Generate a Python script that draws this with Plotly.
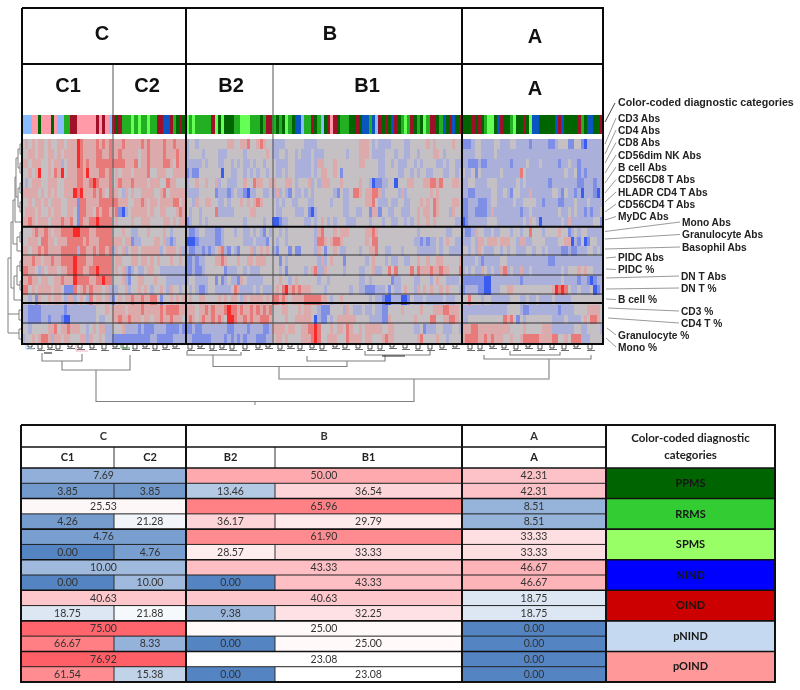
import numpy as np
import plotly.graph_objects as go

W, H = 800, 690

# ---------- heat map data (levels: 0 strong blue .. 3 grey .. 6 strong red)
ROW_LABELS = ["CD3 Abs", "CD4 Abs", "CD8 Abs", "CD56dim NK Abs", "B cell Abs", "CD56CD8 T Abs",
              "HLADR CD4 T Abs", "CD56CD4 T Abs", "MyDC Abs", "Mono Abs", "Granulocyte Abs",
              "Basophil Abs", "PIDC Abs", "PIDC %", "DN T Abs", "DN T %", "B cell %", "CD3 %",
              "CD4 T %", "Granulocyte %", "Mono %"]
CLUSTER_SIZES = [28, 23, 27, 59, 44]

C1_CELLS = [
    "3434344343344344465444454545", "3344344344343444465444455445",
    "4434443343442344465454455555", "3343463343546344455464445545",
    "3234443344433444455445654445", "4444434343433444656444545435",
    "3343443434443344415544445555", "3444343343443344315544354554",
    "4454344434445445315445565555", "3334544543445555665554455555",
    "3344435544344455555454445555", "4434454544445555525544545545",
    "4445443445445555655544555555", "5544324344434455655445565555",
    "4454434433445444655554455655", "5534344443443111534545444342",
    "3323143343443244234325344342", "2211112222222122222222233343",
    "2211112212221002222222232233", "3323333344534454443323434422",
    "2334345542443443334424334322"]
C2_CELLS = [
    "44454444454544445445444", "44544444344544445444544", "55554445344544445543544",
    "34344434444533444334444", "34544454444344433544333", "44324343344443345344444",
    "55444334454344344445534", "45102344444343344333454", "34333343344433334434344",
    "33343322333433334323333", "44434412233334434212333", "24342344344444423444342",
    "34433344344343433343343", "34342123223443322222222", "33342133443334333222222",
    "22334233434323343243323", "13434454454455313343434", "44443444454444454555544",
    "44544544434434454454443", "33342222121112222111121", "11111111111122111112222"]
B2_CELLS = [
    "233233333333344334453345433", "233332333322233333233333343", "222223233322332323223233233",
    "121133333330332233232323323", "233433433423322233433544334", "222233333122212322102233223",
    "332433443322323334343454333", "323323333522222333334433333", "123323233333333333233333233",
    "211233222112333233223232132", "000122222112333333222322213", "211221212345213213334234343",
    "112122333445433343344344433", "112112333333122233232223333", "233222233131232214322222333",
    "323211233222223542222323222", "343344333343434432434444343", "444344545444565545445454545",
    "454345445454366544545445554", "112112222222211222212222112", "221111112222121212122211122"]
B1_CELLS = [
    "22223333332222333333333333344432322223333223333343433333433",
    "22332332322232223333333233344432222333233223323333443233333",
    "32222332222232443334333333344333322332322233232333322323322",
    "32232332222232344334313333333333322333322332323322333223323",
    "43334432333423244433343333343320112233033344333445545333443",
    "24232132232323333332132235543445542333324233333334343333333",
    "32323322333223333323332233333445322232233223334343543333443",
    "32233332223102333333332233223314413322332223343443543332433",
    "00122333332232343232333222333323332332233232343343433333322",
    "33232333333332453334344433333445433333333333323333333322333",
    "32332333333332554345543333333435533333333333221212232343322",
    "21333131133332431334322333323344533223332333322222232332222",
    "33132333333333242343331333333234333232233223343343344333334",
    "33231333332345224333332333322334223353533335354445445443335",
    "33433234333333233233333333322323333331223333223332343322223",
    "34356454544433332333333323322111222313223433243434334343332",
    "55454344445555544323343333333323221002220013222322222322233",
    "33344333434433211133332432223223221133334333334333444554443",
    "33334334444430211323444444333322221143333333433335533445543",
    "44443443344556533343443543343444443344333333223122233222332",
    "34434333344456533444333544443443334544333333345333343323333"]
A_CELLS = [
    "11123322223322233222212222211233311331022222", "22223322223222222222222222222222222222222222",
    "22111211222222212222322232222212232212222222", "32231322222232222253222222222222322312122222",
    "22332222333222222323222222212222222211222122", "22112222233223213322242222223321322120222102",
    "11222111233222223223333221222211222322232222", "11221111242222222212232222222232232322121223",
    "01222222333222222223243202222223242222222331", "21124332232233323323353332333343312323322222",
    "22232443444344433244223333222233440213013322", "33232432223323233222332332322221121122233232",
    "22223212222233222222222222211222222222222222", "23232243232245232242232222222223233343433222",
    "11111110022222222212222222222223222212210122", "12222110022233443333333333334656532232223012",
    "33533323322222233322322322223222223333333333", "22222222222222333321122222222212222333344443",
    "22333333333335453132333333332222322223435543", "44455444444444433334333334442222222332233332",
    "45555445454443343345555544445533435552223333"]

# diagnostic category of each column
STRIPE_PARTS = ["nnnooPoooPonnRROOooooooOoOon",
                "OPORRRSRSRRSRROONNORPOP",
                "SRSRRRRROSPSPPPRRSSSRRRPROO",
                "RPRPSRPNNnRROPRnPOoOPRRRPPOPNNRNnOPOPNOPRSR" + "OPRPSROOPRNPONPO",
                "PPPOPOPRSSPNOPPRSPPOPSNNPPPPPNONPPPPORPNNPPO"]
STRIPE_CODES = "PRSNOno"
STRIPE_COLORS = ["#006400", "#22b022", "#66ff55", "#0a55c0", "#a01028", "#88bbff", "#ff9aa8"]

# ---------- table data
CATEGORIES = ["PPMS", "RRMS", "SPMS", "NIND", "OIND", "pNIND", "pOIND"]
TOP_C = [7.69, 25.53, 4.76, 10.00, 40.63, 75.00, 76.92]
TOP_B = [50.00, 65.96, 61.90, 43.33, 40.63, 25.00, 23.08]
TOP_A = [42.31, 8.51, 33.33, 46.67, 18.75, 0.00, 0.00]
SUB_C1 = [3.85, 4.26, 0.00, 0.00, 18.75, 66.67, 61.54]
SUB_C2 = [3.85, 21.28, 4.76, 10.00, 21.88, 8.33, 15.38]
SUB_B2 = [13.46, 36.17, 28.57, 0.00, 9.38, 0.00, 0.00]
SUB_B1 = [36.54, 29.79, 33.33, 43.33, 32.25, 25.00, 23.08]
SUB_A = [42.31, 8.51, 33.33, 46.67, 18.75, 0.00, 0.00]
LEGEND_COLORS = ["#006400", "#33cc33", "#99ff66", "#0000ff", "#cc0000", "#c5d9f1", "#ff9999"]
TABLE_STOPS = [(0, "#5484c2"), (8, "#93b1d9"), (14, "#b6cbe5"), (23, "#ffffff"), (33, "#fddfe2"),
               (42, "#fdc3c8"), (50, "#fda9ae"), (66, "#ff8186"), (77, "#ff5f66")]
HEAT_COLORS = ["#3a5cf0", "#7f8fe6", "#aab0da", "#c4c0c4", "#dcaaaa", "#e87a7a", "#fa2a2a"]

# ---------- layout constants (page pixels)
HX0, HX1, HY0, HY1 = 22, 603, 139, 344
SY0, SY1 = 115, 134
BOX_TOP, BOX_MID = 8, 64
COL_EDGES = [22, 113, 186, 273, 462, 603]
ROW_LINES_THICK = [226.7, 303]
ROW_LINES_THIN = [255, 275, 294, 323]
TX = [21, 114, 186, 275, 462, 606, 775]
TY_HEAD = [425, 447, 468]
TY_END = 682

n_cols = sum(CLUSTER_SIZES)
def fit(s, n, fill):
    return (s + fill * n)[:n]

z_heat = [[int(c) for part, n in zip(parts, CLUSTER_SIZES) for c in fit(part, n, "3")]
          for parts in zip(C1_CELLS, C2_CELLS, B2_CELLS, B1_CELLS, A_CELLS)]
stripe = "".join(fit(p, n, "P") for p, n in zip(STRIPE_PARTS, CLUSTER_SIZES))
z_stripe = [[STRIPE_CODES.index(c) for c in stripe]]

def discrete(colors):
    n = len(colors)
    out = []
    for i, c in enumerate(colors):
        out += [[i / n, c], [(i + 1) / n, c]]
    return out

fig = go.Figure()
fig.add_trace(go.Heatmap(z=z_heat, x=list(range(n_cols)), y=list(range(21)), zmin=0, zmax=6,
                         colorscale=[[i / 6, c] for i, c in enumerate(HEAT_COLORS)],
                         showscale=False, hoverinfo="skip", xaxis="x", yaxis="y"))
fig.add_trace(go.Heatmap(z=z_stripe, x=list(range(n_cols)), y=[0], zmin=0, zmax=7,
                         colorscale=discrete(STRIPE_COLORS), showscale=False, hoverinfo="skip",
                         xaxis="x2", yaxis="y2"))

# table cells
ty = np.linspace(TY_HEAD[2], TY_END, 15)
t_rows = []
for i in range(7):
    t_rows.append([TOP_C[i], TOP_C[i], TOP_B[i], TOP_B[i], TOP_A[i]])
    t_rows.append([SUB_C1[i], SUB_C2[i], SUB_B2[i], SUB_B1[i], SUB_A[i]])
zmax_t = TABLE_STOPS[-1][0]
fig.add_trace(go.Heatmap(z=t_rows, x=TX[:6], y=list(ty), zmin=0, zmax=zmax_t,
                         colorscale=[[v / zmax_t, c] for v, c in TABLE_STOPS], showscale=False,
                         hoverinfo="skip", xaxis="x3", yaxis="y3"))
fig.add_trace(go.Heatmap(z=[[i] for i in range(7)], x=TX[5:7], y=list(ty[::2]), zmin=0, zmax=7,
                         colorscale=discrete(LEGEND_COLORS), showscale=False, hoverinfo="skip",
                         xaxis="x3", yaxis="y3"))

def lines(segs, color, width):
    xs, ys = [], []
    for s in segs:
        xs += list(s[0::2]) + [None]
        ys += list(s[1::2]) + [None]
    fig.add_trace(go.Scatter(x=xs, y=ys, mode="lines", line=dict(color=color, width=width),
                             hoverinfo="skip", showlegend=False, xaxis="x3", yaxis="y3",
                             connectgaps=False))

def text(xs, ys, labels, size, font="Liberation Sans", color="#111", bold=False, pos="middle center"):
    fig.add_trace(go.Scatter(x=xs, y=ys, text=labels, mode="text", textposition=pos,
                             textfont=dict(family=font, size=size, color=color,
                                           weight="bold" if bold else "normal"),
                             hoverinfo="skip", showlegend=False, xaxis="x3", yaxis="y3"))

# dendrogram above: big merges
DENDRO_TOP = [(96, 414, 401.5, 370, 379), (62, 130, 370, 361, 355), (42, 82, 361, 353, 354),
              (279, 549, 379, 366.5, 359), (213, 347, 366.5, 355, 361), (187, 241, 355, 351, 352),
              (307, 385, 361, 356, 355), (484, 591, 359, 355, 355), (365, 430, 355, 351, 351),
              (510, 560, 355, 351, 352)]
lines([(a, yt, a, y, b, y, b, yb) for a, b, y, yt, yb in DENDRO_TOP], "#808080", 1.1)
lines([(255, 401.5, 255, 405)], "#808080", 1)
# dendrogram above: leaf clusters
LEAF_X = [30, 40, 50, 58, 70, 80, 92, 104, 115, 125, 135, 145, 155, 165, 175, 190, 200, 212, 222, 232, 245,
          258, 268, 280, 290, 300, 312, 322, 335, 345, 358, 370, 380, 392, 405, 418, 430, 442, 455, 470,
          480, 492, 504, 516, 528, 540, 552, 564, 576, 590]
LEAF_D = [347, 349, 348, 349, 347, 348, 348, 349, 347, 348, 349, 347, 349, 348, 347, 349, 347, 349, 348, 349, 349,
          348, 347, 349, 347, 349, 348, 349, 347, 348, 348, 349, 349, 347, 348, 349, 349, 348, 347, 349,
          349, 347, 348, 349, 347, 349, 348, 349, 347, 349]
lines([(x - 2, 345, x - 2, d, x + 2, d, x + 2, 345) for x, d in zip(LEAF_X, LEAF_D)], "#2a2a2a", 0.8)
lines([(x - 3, d + 1.5, x + 5, d + 1.5) for x, d in zip(LEAF_X, LEAF_D)], "#444444", 0.8)
lines([(26, 345, 26, 349, 34, 349)], "#a8d0ff", 1)
lines([(76, 345, 76, 351, 88, 351)], "#f0b0b8", 1)
lines([(121, 345, 121, 348, 130, 348)], "#55b055", 1)
lines([(382, 356, 405, 356)], "#222222", 1)
lines([(44, 353, 52, 353)], "#111111", 1)

# dendrogram at left
BR = [(20, 144, 154, 22, 22), (20, 163, 173, 22, 22), (18, 149, 168, 20, 20), (20, 183, 193, 22, 22),
      (20, 202, 212, 22, 22), (18, 188, 207, 20, 20), (16, 158, 197, 18, 18), (15, 177, 222, 16, 22),
      (20, 232, 242, 22, 22), (17, 237, 251, 20, 22), (13, 200, 244, 15, 17), (20, 261, 271, 22, 22),
      (20, 281, 290, 22, 22), (17, 266, 285, 20, 20), (14, 276, 300, 17, 22), (11, 222, 288, 13, 14),
      (19, 310, 320, 22, 22), (19, 329, 339, 22, 22), (8, 258, 333, 11, 19)]
lines([(xe1, y1, xv, y1, xv, y2, xe2, y2) for xv, y1, y2, xe1, xe2 in BR] + [(8, 314, 19, 314)], "#808080", 1)

# row separators in heat map, column separators, boxes
lines([(HX0, y, HX1, y) for y in ROW_LINES_THIN], "#303030", 1.2)
lines([(COL_EDGES[1], BOX_MID, COL_EDGES[1], HY1), (COL_EDGES[3], BOX_MID, COL_EDGES[3], HY1)], "#555555", 1)
lines([(HX0, y, HX1, y) for y in ROW_LINES_THICK], "#0a0a0a", 2)
lines([(COL_EDGES[2], BOX_TOP, COL_EDGES[2], HY1), (COL_EDGES[4], BOX_TOP, COL_EDGES[4], HY1)], "#0a0a0a", 2)
lines([(HX0, BOX_TOP, HX1, BOX_TOP, HX1, HY1, HX0, HY1, HX0, BOX_TOP), (HX0, BOX_MID, HX1, BOX_MID)], "#0a0a0a", 2)

text([102, 330, 535, 68, 147, 231, 367, 535], [35, 35, 38, 87, 87, 87, 87, 90],
     ["C", "B", "A", "C1", "C2", "B2", "B1", "A"], 20, bold=True)

# side labels
LABEL_X = [618] * 9 + [682] * 3 + [618] * 2 + [681] * 2 + [618] + [681] * 2 + [618] * 2
LABEL_Y = [119, 131, 143.5, 156, 168, 180.5, 193, 205, 217.5, 223, 235.5, 248, 258, 270.5, 277, 289,
           300.5, 312, 324, 336, 348]
LEAD_X = [605, 605, 605, 605, 605, 605, 605, 605, 605, 605, 605, 605, 606, 606, 606, 606, 606, 608, 608, 607, 606]
LEAD_Y = [144, 154, 163, 173, 183, 193, 202, 212, 220, 231.5, 239, 249, 258, 269, 278, 289, 299, 308, 318, 328, 338]
lines([(ax, ay, lx - 2, ly - 1) for ax, ay, lx, ly in zip(LEAD_X, LEAD_Y, LABEL_X, LABEL_Y)], "#9a9a9a", 1)
lines([(605, 122, 615, 103)], "#444444", 1)
text(LABEL_X, LABEL_Y, ROW_LABELS, 10.2, bold=True, pos="middle right", color="#222")
text([618], [103], ["Color-coded diagnostic categories"], 10.7, bold=True, pos="middle right", color="#222")

# table lines
sub_lines = [(TX[1], ty[i], TX[1], ty[i + 1]) for i in range(1, 14, 2)]
sub_lines += [(TX[3], ty[i], TX[3], ty[i + 1]) for i in range(1, 14, 2)]
lines(sub_lines + [(TX[1], TY_HEAD[1], TX[1], TY_HEAD[2]), (TX[3], TY_HEAD[1], TX[3], TY_HEAD[2])], "#303030", 1)
lines([(TX[0], ty[i], TX[5], ty[i]) for i in range(1, 14, 2)], "#222222", 1)
lines([(TX[0], ty[i], TX[6], ty[i]) for i in range(0, 15, 2)] +
      [(TX[0], TY_HEAD[1], TX[5], TY_HEAD[1])], "#111111", 1.6)
lines([(TX[0], TY_HEAD[0], TX[6], TY_HEAD[0], TX[6], TY_END, TX[0], TY_END, TX[0], TY_HEAD[0])] +
      [(x, TY_HEAD[0], x, TY_END) for x in (TX[2], TX[4], TX[5])], "#111111", 2)

# table text
F = "Lato"
cx = [(TX[i] + TX[i + 1]) / 2 for i in range(6)]
head_y = (TY_HEAD[0] + TY_HEAD[1]) / 2 + 1
sub_y = (TY_HEAD[1] + TY_HEAD[2]) / 2 + 1
text([(TX[0] + TX[2]) / 2, (TX[2] + TX[4]) / 2, cx[4]], [head_y] * 3, ["C", "B", "A"], 11, F, "#333", True)
text(cx[:5], [sub_y] * 5, ["C1", "C2", "B2", "B1", "A"], 11, F, "#222", True)
text([cx[5], cx[5]], [439, 456], ["Color-coded diagnostic", "categories"], 11.5, F, "#222", True)
tx_t, ty_t, s_t = [], [], []
for i in range(7):
    yt = (ty[2 * i] + ty[2 * i + 1]) / 2 + 1
    ys = (ty[2 * i + 1] + ty[2 * i + 2]) / 2 + 1
    for xx, v in [((TX[0] + TX[2]) / 2, TOP_C[i]), ((TX[2] + TX[4]) / 2, TOP_B[i]), (cx[4], TOP_A[i])]:
        tx_t.append(xx); ty_t.append(yt); s_t.append(f"{v:.2f}")
    for xx, v in zip(cx[:5], [SUB_C1[i], SUB_C2[i], SUB_B2[i], SUB_B1[i], SUB_A[i]]):
        tx_t.append(xx); ty_t.append(ys); s_t.append(f"{v:.2f}")
text(tx_t, ty_t, s_t, 10.5, F, "#333")
text([cx[5]] * 7, [y + 1 for y in ty[1:14:2]], CATEGORIES, 11, F, "#161616", True)

def dom_x(a, b):
    return [a / W, b / W]
def dom_y(a, b):
    return [1 - b / H, 1 - a / H]

hidden = dict(showgrid=False, zeroline=False, showticklabels=False, ticks="", showline=False, fixedrange=True)
fig.update_layout(
    width=W, height=H, margin=dict(l=0, r=0, t=0, b=0), autosize=False,
    paper_bgcolor="white", plot_bgcolor="rgba(0,0,0,0)", showlegend=False,
    xaxis=dict(domain=dom_x(HX0, HX1), range=[-0.5, n_cols - 0.5], **hidden),
    yaxis=dict(domain=dom_y(HY0, HY1), range=[20.5, -0.5], **hidden),
    xaxis2=dict(domain=dom_x(HX0, HX1), range=[-0.5, n_cols - 0.5], **hidden),
    yaxis2=dict(domain=dom_y(SY0, SY1), range=[-0.5, 0.5], **hidden),
    xaxis3=dict(domain=[0, 1], range=[0, W], **hidden),
    yaxis3=dict(domain=[0, 1], range=[H, 0], **hidden),
)
fig.write_html("out.html", config={"displayModeBar": False},
               post_script="document.body.style.margin='0';document.body.style.overflow='hidden';"
                           "document.querySelector('.plotly-graph-div').style.filter='blur(0.55px)';")
